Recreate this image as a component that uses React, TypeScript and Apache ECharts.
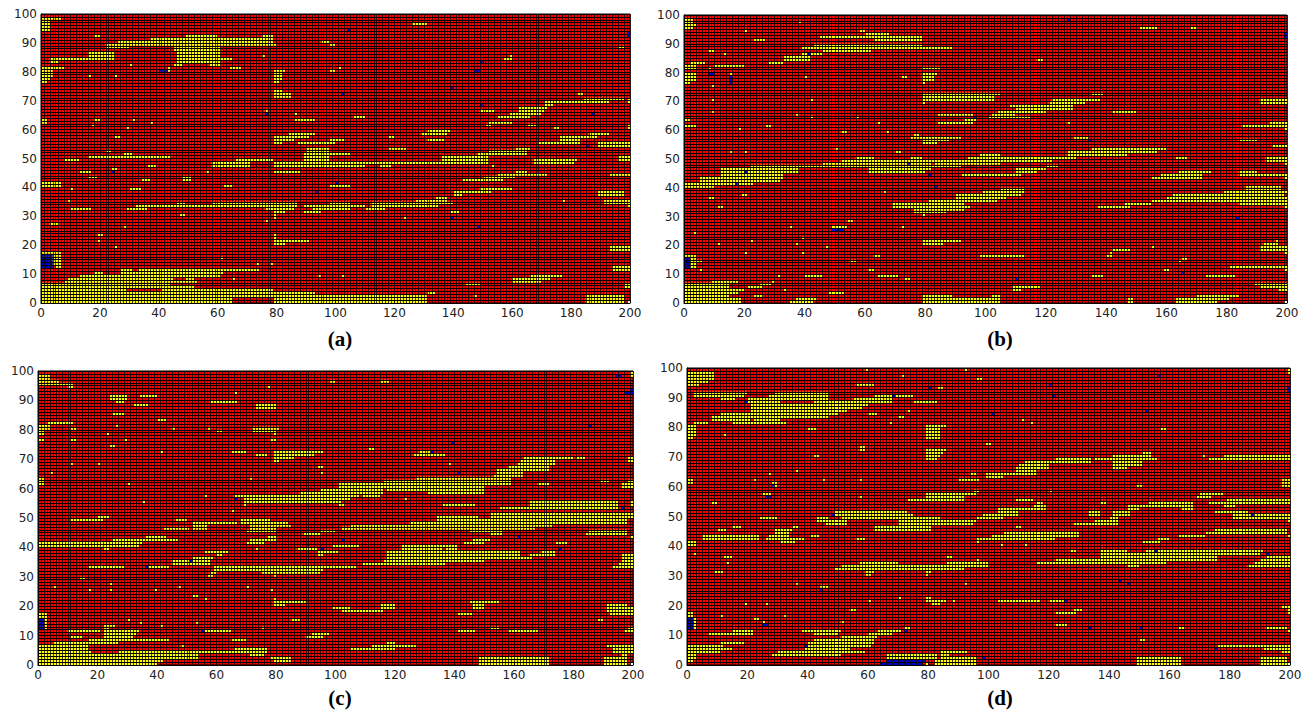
import React, { useEffect, useRef } from "react";
import * as echarts from "echarts";

// Each line: [row, start, end, start, end, ...] cell runs
const yellowA = [
[98,0,7],[97,0,3],[96,0,3,126,131],[95,0,3],[94,0,3],[92,18,20,49,60,75,79],[91,37,79],[90,26,79,95,98],[89,22,80,98,100],[88,22,30,45,61,196,198],[87,45,61],[86,16,25,46,61],[85,16,25,46,61,75,76,159,160],[84,3,25,46,65,157,160],[83,3,6,46,61],[82,30,31,45,48,57,61],[81,0,8,43,44,64,68,101,102],[80,0,4,43,44,79,83,98,100],[79,0,4,79,82],[78,0,4,16,17,25,26,79,82],[77,0,3,79,82],[76,0,2,79,81],[73,79,82],[72,79,85,182,184],[71,79,85],[70,184,198,199,200],[69,171,193,199,200],[68,171,174],[67,162,172],[66,76,77,149,154,162,171],[65,86,87,159,170],[64,106,110,155,166],[63,0,2,18,20,31,32,86,93],[62,0,2,37,38,152,160],[61,17,18,151,153,165,168,199,200],[60,29,30,174,176,199,200],[59,131,139],[58,84,93,129,138,186,193],[57,25,27,79,91,118,120,176,189],[56,79,86,98,103,131,137,176,183],[55,79,82,87,100,169,183,189,200],[54,189,200],[53,90,98,118,124,161,166],[52,22,24,90,98,152,165],[51,28,31,89,105,148,165],[50,16,44,89,98,136,152,196,200],[49,8,13,66,79,89,98,136,152,167,182,196,200],[48,58,71,79,152,167,181],[47,36,39,58,71,79,110,115,119,153,154],[46,24,26],[45,13,17,56,57,79,88,161,165],[44,155,172,193,200],[43,16,19,48,51,150,161],[42,34,37,48,51,143,157],[41,0,7],[40,0,7,62,65,98,105],[39,10,11,30,34,149,160],[38,140,153,189,198],[37,140,143,189,198],[36,134,138],[35,9,10,127,138,177,178,191,200],[34,46,49,58,87,98,105,112,140,191,200],[33,32,87,89,110,112,135,199,200],[32,10,17,29,36,76,86,92,105,110,117],[31,79,83,89,95,139,142],[30,47,49,79,80],[29,79,80,123,124],[28,76,77],[27,3,6],[26,28,29],[23,19,21,79,80],[22,79,80],[21,19,20,79,91],[20,79,83],[19,25,26,193,200],[18,193,200],[17,0,7],[16,0,7],[15,0,7,61,62],[14,0,7],[13,0,7,73,74,78,79],[12,5,7,194,200],[11,27,31,33,74,194,200],[10,18,21,27,62],[9,13,61,94,95,102,103,166,177],[8,9,45,49,52,65,66,160,173],[7,8,53,160,170],[6,0,44,144,149,198,200],[5,0,52,198,200],[4,0,29,41,79],[3,0,93,131,134],[2,0,131,147,148,185,198],[1,0,65,79,131,185,198],[0,0,65,79,131,185,198]
];
const blueA = [[94,104,105],[93,199,200],[92,199,200],[83,149,150],[80,40,43,147,149],[74,139,140],[72,102,103],[68,149,150],[65,76,77,187,188],[54,185,186],[45,24,25],[41,100,101],[38,93,94],[29,139,140],[26,148,149],[16,0,4],[15,0,4],[14,0,4],[13,0,4],[12,0,4]];

const yellowB = [
[98,0,3],[97,0,3,38,39],[96,0,4],[95,0,3,151,157,168,170],[94,58,60,20,21],[93,60,68],[92,45,79],[91,23,27,63,79],[89,43,79],[88,39,89],[87,8,10,46,62],[86,13,14,39,46],[85,33,42],[84,33,42,117,119],[83,2,7,28,33],[82,0,4,10,20],[81,0,4,8,9,79,85],[79,0,4,15,16,79,84],[78,0,4,40,41,72,74,79,83],[77,0,4,79,83],[76,0,2,79,80],[75,9,10],[72,79,105,135,139],[71,79,103,102,103],[70,9,10,42,43,79,103,122,138,191,200],[69,79,80,121,133,191,200],[68,108,129],[67,110,129],[66,9,10,104,120,142,150],[65,37,38,84,96,103,104,102,110],[64,42,43,57,58,101,104,102,115],[63,0,2,93,97],[62,64,65,84,96,127,128,194,200],[61,0,4,27,29,185,200],[60,18,19,199,200],[59,52,54,67,68],[58,76,78],[57,75,92,129,134],[56,79,88,184,190],[55,79,84],[54,195,200],[53,50,51,135,160],[52,15,16,20,21,70,72,127,157],[51,98,105,127,147],[50,57,63,75,79,94,130,163,167,193,200],[49,52,122,193,200],[48,46,82,83,105,199,200],[47,22,92,120,124],[46,12,38,61,82,110,120],[45,12,38,61,80,110,117,164,175,184,190],[44,12,33,92,112,158,172,184,200],[43,5,33,155,172,199,200],[42,5,32],[41,0,23],[40,0,10,186,198],[39,105,113,186,198],[38,66,67,99,113,179,200],[37,19,21,90,112,162,199],[36,8,10,90,107,160,200],[35,81,104,155,200],[34,69,93,146,155,184,200],[33,11,13,69,95,137,148,199,200],[32,76,93],[31,76,87],[30,79,80],[28,54,56],[26,35,36,49,54,72,73],[24,3,4],[22,39,40],[21,22,23,79,92,196,197],[20,11,12,37,38,79,86,192,197],[19,47,48,155,156,191,200],[18,142,148,191,200],[17,20,21,39,40,141,142,199,200],[16,0,4,63,65,98,113,140,142],[15,2,4,165,167],[14,2,6,55,57,164,165],[13,2,4],[12,2,4,181,200],[11,5,6,61,63,159,161,199,200],[9,31,32,40,46,64,71,135,139,173,183],[8,73,75],[7,9,18,29,30],[6,0,15,25,29,189,200],[5,0,15,21,26,109,118,191,200],[4,0,20,33,34,109,112,197,200],[3,0,18,48,53],[2,0,15,23,26,79,89,102,105,170,184],[1,0,19,37,44,79,105,147,149,163,181],[0,0,19,35,43,79,105,147,149,163,177]
];
const blueB = [[98,127,128],[93,199,200],[92,199,200],[86,41,42],[79,8,10],[78,15,16],[77,15,16],[76,15,16],[64,96,97],[56,134,135],[48,74,75],[45,20,21],[44,81,82],[41,17,18],[40,83,84],[29,183,184],[25,49,53],[15,0,2],[14,0,2],[13,0,2],[12,0,2],[10,165,166],[8,110,111]];

const yellowC = [
[99,199,200],[98,0,4,199,200],[97,0,4],[96,0,7,98,100,115,118],[95,0,12],[94,10,12,77,78],[92,66,67],[91,24,30,34,40],[90,24,30],[89,26,29,58,67],[88,32,37,73,80],[87,73,80],[85,25,29],[83,40,43],[82,3,12],[81,0,4,26,27],[80,0,4,11,13,45,46,57,58,72,81],[79,0,2,60,62,72,80],[78,0,2,23,24,79,80],[76,0,2,11,13,29,30,78,80],[74,24,26],[73,111,113],[72,41,42,65,70,79,96,128,132],[71,73,77,79,93,126,137],[70,79,86,163,180,181,184,198,200],[69,79,81,162,174,198,200],[68,11,12,20,21,138,139,161,174],[67,94,96,158,172],[66,154,172],[65,4,5,95,96,154,163],[64,153,163],[63,0,2,71,72,127,159],[62,0,2,116,159,189,192,198,200],[61,0,2,30,31,101,159,168,172,196,200],[60,101,150,196,200],[59,95,105,102,116,117,150],[58,88,116,131,150],[57,56,57,66,108,109,115],[56,69,105,123,124],[55,35,36,69,102,165,195,199,200],[54,69,70,101,103,136,147,165,195,199,200],[52,65,66,],[53,155,195],[51,152,200],[50,20,24,134,148,152,200],[49,11,22,46,50,68,78,134,198],[48,52,67,68,84,125,198],[47,52,57,71,85,105,173],[46,42,51,52,57,71,80,102,105,102,167],[45,70,80,95,100,145,156,185,198],[44,89,95,152,156,184,198],[43,36,43,77,80,199,200],[42,25,47,71,80,146,152],[41,0,35,70,76,143,150,174,178],[40,0,34,99,105,102,108,122,141],[39,22,24,73,74,87,94,122,136,137,141],[38,56,64,94,101,117,162,169,174],[37,60,62,94,96,117,162,165,174,196,200],[36,52,59,117,166,196,200],[35,45,58,116,150,196,200],[34,45,58,109,137,195,200],[33,17,29,36,44,59,105,102,107,193,200],[32,59,96],[31,58,60,75,95],[30,57,59,79,80],[29,14,16],[27,24,25],[26,5,6,47,48,70,71],[25,17,18,24,25,39,40,78,79],[23,52,54],[22,56,57,79,80],[21,79,90,145,155],[20,79,83,115,120,146,150,191,198],[19,99,105,115,120,146,150,191,200],[18,102,116,191,200],[17,0,3,141,146,192,200],[16,0,3],[15,2,3,30,31,85,88,188,190],[14,2,3,34,35,53,54],[13,2,3,22,26,41,42],[12,2,3,22,24,75,76,152,155,198,200],[11,10,21,22,34,56,65,141,147,158,168,197,200],[10,22,33,92,98],[9,11,15,22,32,90,96],[8,17,44,65,70],[7,5,27,117,120],[6,0,17,48,49,112,127,191,200],[5,0,17,66,77,105,120,193,200],[4,0,18,27,77,193,200],[3,0,54,71,76,196,198],[2,0,54,78,85,148,172,190,198],[1,0,42,79,85,148,172,190,198],[0,0,40,148,172,190,198]
];
const blueC = [[98,194,196],[93,199,200],[92,197,200],[81,185,186],[75,139,140],[72,132,133],[65,141,142],[56,66,67],[53,196,197],[43,161,162],[42,102,103],[39,95,96,175,176],[35,51,52],[33,36,37],[15,0,2],[14,0,2],[13,0,2],[12,0,2],[11,55,56]];

const yellowD = [
[99,59,60,92,93,199,200],[98,0,9,199,200],[97,0,9,71,72],[96,0,9,96,98],[95,0,7],[94,0,4,56,62],[93,83,85],[91,2,20,29,47],[90,2,19,27,47,62,75],[89,11,16,20,47,55,68],[88,20,31,42,68,75,83],[87,21,60],[86,21,58],[85,21,53,73,74],[84,11,50,60,63],[83,8,47,70,72],[82,8,21,22,31,111,112],[81,2,7,15,33,67,68,114,115],[80,0,3,79,86],[79,0,3,40,43,79,84,157,159],[78,0,3,79,84],[77,0,3,12,13,79,84],[76,0,2,79,84],[74,99,101],[73,57,59],[72,57,59,79,86],[71,79,85,151,154],[70,42,44,79,84,141,154,171,172,178,200],[69,79,83,122,134,135,156,173,200],[68,112,134,141,151],[67,110,120,141,151],[66,109,120,141,146],[65,36,37,109,116],[64,27,28,94,96,99,104,101,116],[63,99,104,101,105],[62,0,2,22,23,45,46,57,58,90,97,197,200],[61,0,2,28,30,197,200],[60,28,30,149,151,197,200],[58,95,97,120,121],[57,25,28,79,96,170,178],[56,57,58,79,92,169,174],[55,73,92,109,115,179,200],[54,8,10,116,118,137,139,153,168,173,200],[53,115,119,146,168,178,182],[52,103,119,146,150,164,168],[51,49,73,103,105,103,110,133,137,141,147,175,186],[50,49,75,98,105,101,110,133,137,141,147,181,200],[49,24,30,43,47,51,84,96,105,140,143,181,200],[48,43,53,70,96,135,143,199,200],[47,46,53,70,95,128,143],[46,15,18,35,37,62,81,109,111],[45,10,13,29,35,62,81,175,199],[44,29,34,105,130,172,199],[43,5,24,27,34,41,44,101,130,163,172,199,200],[42,5,24,26,39,56,59,96,105,101,122,156,160],[41,0,3,31,36,96,97,151,157],[40,0,3,104,105,112,113],[38,127,129,137,146,152,191],[37,2,3,137,190],[36,12,15,86,88,137,176,192,200],[35,96,97,122,176,190,200],[34,13,14,57,70,86,100,116,159,188,200],[33,51,100,146,150,186,200],[32,49,92],[31,9,12,59,62,79,81],[30,59,61,79,80],[27,36,37,92,93],[26,44,47],[22,70,71,79,81],[21,60,61,79,86,88,89,103,117,120,125],[20,19,20,26,27,81,84],[19,197,200],[18,54,56,128,131,199,200],[17,0,2,122,129,199,200],[16,0,2,11,12,32,33],[15,2,3,22,24],[14,2,3,25,26,51,52],[13,2,3,122,126],[12,2,3,72,74,150,151,163,165,192,199],[11,15,22,38,51,63,71,199,200],[10,7,22,42,50,60,68],[9,51,63],[8,42,62,150,152],[7,11,19,40,62],[6,0,12,39,61,176,200],[5,0,15,39,54,191,200],[4,0,11,30,59,84,93,197,200],[3,0,3,28,51,66,83,84,87],[2,0,3,66,83,84,96,149,164,190,199],[1,0,2,82,96,149,164,190,199],[0,79,80,82,96,149,164,190,199]
];
const blueD = [[97,156,157],[94,120,121],[93,80,81,199,200],[92,199,200],[90,68,69,121,122],[88,19,20],[85,152,153],[84,101,102],[60,28,29],[56,26,28],[50,48,49,187,188],[38,155,156],[37,192,193],[28,143,144],[27,146,147],[25,44,45],[21,125,126],[15,0,2],[14,0,2],[13,0,2],[12,0,2],[13,25,27],[12,133,134,150,151],[11,72,73],[6,39,40],[5,175,176],[2,98,99],[1,66,79],[0,64,78]];

const whiteCell = [[0, 199, 200]];
const captions = ["(a)", "(b)", "(c)", "(d)"];
const xTickInterval = 20;
const yTickInterval = 10;

const expand = (rows: number[][]) => {
  const out: number[][] = [];
  rows.forEach((r) => {
    for (let i = 1; i + 1 < r.length; i += 2) out.push([r[i], r[i + 1], r[0]]);
  });
  return out;
};

const panels = [
  { yellow: yellowA, blue: blueA, l: 41, r: 630, t: 14, b: 303, cx: 340, cy: 339 },
  { yellow: yellowB, blue: blueB, l: 684, r: 1287, t: 15, b: 303, cx: 1000, cy: 339 },
  { yellow: yellowC, blue: blueC, l: 38, r: 633, t: 371, b: 665, cx: 340, cy: 698 },
  { yellow: yellowD, blue: blueD, l: 687, r: 1290, t: 368, b: 665, cx: 1000, cy: 698 },
];

const cellSeries = (data: number[][], color: string, idx: number) => ({
  type: "custom",
  xAxisIndex: idx,
  yAxisIndex: idx,
  z: 1,
  silent: true,
  clip: true,
  encode: { x: [0, 1], y: 2 },
  data,
  renderItem: (_: any, api: any) => {
    const a = api.coord([api.value(0), api.value(2) + 1]);
    const b = api.coord([api.value(1), api.value(2)]);
    return {
      type: "rect",
      shape: { x: a[0], y: a[1], width: b[0] - a[0], height: b[1] - a[1] },
      style: { fill: color },
    };
  },
});

export default function App() {
  const ref = useRef<HTMLDivElement>(null);
  useEffect(() => {
    document.body.style.margin = "0";
    const chart = echarts.init(ref.current!, undefined, { renderer: "svg" });
    const labelFont = { fontFamily: "DejaVu Sans", fontSize: 12, color: "#222" };
    const line = { color: "#000", width: 1 };
    const verticalLine = { color: "#000", width: 0.75 };
    const horizontalLine = { color: "#000", width: 1 };
    chart.setOption({
      animation: false,
      backgroundColor: "#fff",
      grid: panels.map((p) => ({
        show: true,
        left: p.l,
        top: p.t,
        width: p.r - p.l,
        height: p.b - p.t,
        backgroundColor: "#ff0000",
        borderColor: "#000",
        borderWidth: 1,
      })),
      xAxis: panels.map((_, i) => ({
        type: "value",
        gridIndex: i,
        min: 0,
        max: 200,
        interval: xTickInterval,
        z: 5,
        axisLine: { show: true, lineStyle: line },
        axisTick: { show: true, inside: true, length: 3, lineStyle: line },
        axisLabel: { ...labelFont, margin: 4 },
        splitLine: { show: true, lineStyle: verticalLine },
        minorTick: { show: false, splitNumber: xTickInterval },
        minorSplitLine: { show: true, lineStyle: verticalLine },
      })),
      yAxis: panels.map((_, i) => ({
        type: "value",
        gridIndex: i,
        min: 0,
        max: 100,
        interval: yTickInterval,
        z: 5,
        axisLine: { show: true, lineStyle: line },
        axisTick: { show: true, inside: true, length: 3, lineStyle: line },
        axisLabel: { ...labelFont, margin: 4 },
        splitLine: { show: true, lineStyle: horizontalLine },
        minorTick: { show: false, splitNumber: yTickInterval },
        minorSplitLine: { show: true, lineStyle: horizontalLine },
      })),
      series: panels.flatMap((p, i) => [
        cellSeries(expand(p.yellow), "#ffff00", i),
        cellSeries(expand(p.blue), "#0000c8", i),
        cellSeries(expand(whiteCell), "#ffffff", i),
      ]),
      graphic: panels.map((p, i) => ({
        type: "text",
        x: p.cx,
        y: p.cy,
        style: {
          text: captions[i],
          font: "bold 21px 'Liberation Serif'",
          fill: "#000",
          textAlign: "center",
          textVerticalAlign: "middle",
        },
      })),
    });
    return () => chart.dispose();
  }, []);
  return <div ref={ref} style={{ width: 1314, height: 713 }} />;
}
